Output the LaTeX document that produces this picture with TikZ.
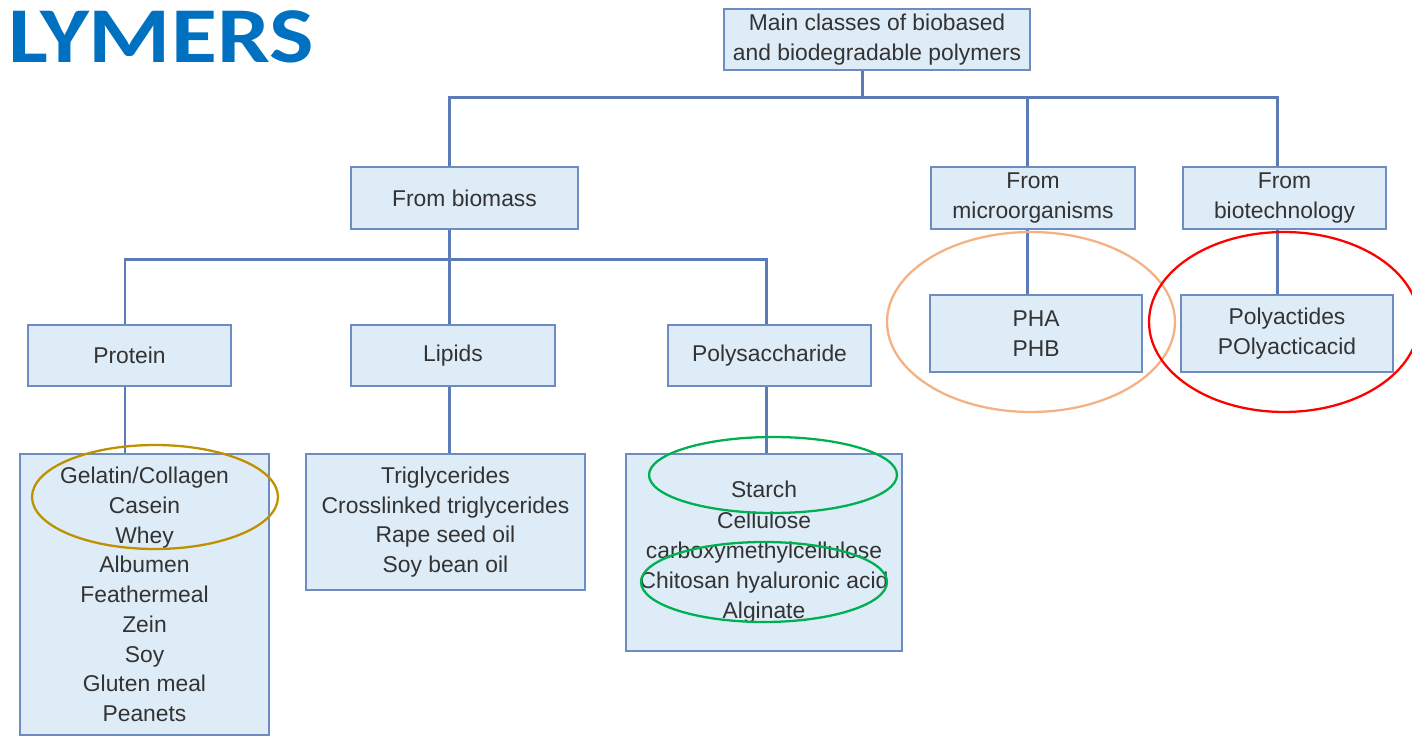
\documentclass[tikz,border=0pt]{standalone}
\usepackage{fontspec}
\setmainfont{Liberation Sans}
\newfontfamily\titlefont{Carlito}
\definecolor{boxfill}{HTML}{DEECF7}
\definecolor{boxline}{HTML}{6F8CC0}
\definecolor{linkcol}{HTML}{5B7BB6}
\definecolor{txt}{HTML}{333333}
\definecolor{titleblue}{HTML}{0070C0}
\definecolor{ringgold}{HTML}{BF9000}
\definecolor{ringgreen}{HTML}{00B050}
\definecolor{ringpeach}{HTML}{F4B183}
\begin{document}
\begin{tikzpicture}[x=0.02cm, y=-0.02cm,
    box/.style={rectangle, draw=boxline, line width=1.3pt, fill=boxfill, align=center, inner sep=0pt,
        text=txt, font=\fontsize{13}{16.9}\selectfont},
    link/.style={draw=linkcol, line width=1.7pt},
    ring/.style={line width=1.3pt}
]
\useasboundingbox (0,0) rectangle (1412,736);

% Title
\node[anchor=base west, inner sep=0pt, xscale=1.19, transform shape, text=titleblue,
    font=\titlefont\bfseries\fontsize{45}{50}\selectfont] (title) at (8,63) {LYMERS};

% Boxes
\node[box, minimum width=6.12cm, minimum height=1.22cm] (main) at (877,39.5) {Main classes of biobased\\and biodegradable polymers};
\node[box, minimum width=4.54cm, minimum height=1.24cm] (bio) at (464.5,198) {From biomass};
\node[box, minimum width=4.08cm, minimum height=1.24cm] (micro) at (1033,198) {From\\microorganisms};
\node[box, minimum width=4.06cm, minimum height=1.24cm] (biot) at (1284.5,198) {From\\biotechnology};
\node[box, minimum width=4.06cm, minimum height=1.22cm] (prot) at (129.5,355.5) {Protein};
\node[box, minimum width=4.08cm, minimum height=1.22cm] (lip) at (453,355.5) {Lipids};
\node[box, minimum width=4.06cm, minimum height=1.22cm] (poly) at (769.5,355.5) {Polysaccharide};
\node[box, minimum width=4.24cm, minimum height=1.54cm] (pha) at (1036,333.5) {PHA\\PHB};
\node[box, minimum width=4.24cm, minimum height=1.54cm] (pla) at (1287,333.5) {Polyactides\\POlyacticacid};

% Lists
\node[box, minimum width=4.98cm, minimum height=5.62cm] (plist) at (144.5,594.5) {Gelatin/Collagen\\Casein\\Whey\\Albumen\\Feathermeal\\Zein\\Soy\\Gluten meal\\Peanets};
\node[box, minimum width=5.58cm, minimum height=2.72cm] (llist) at (445.5,522) {Triglycerides\\Crosslinked triglycerides\\Rape seed oil\\Soy bean oil};
\node[box, minimum width=5.52cm, minimum height=3.94cm, font=\fontsize{13}{17.2}\selectfont] (slist) at (764,552.5) {Starch\\Cellulose\\carboxymethylcellulose\\Chitosan hyaluronic acid\\Alginate};

% Connections
\draw[link] ([xshift=-0.3cm]main.south) -- ++(0,26) coordinate (j1);
\draw[link] ([xshift=-0.31cm]bio.north) |- (j1) -| ([xshift=-0.15cm]biot.north);
\draw[link] ([xshift=-0.12cm]micro.north) -- ([xshift=-0.12cm]micro.north |- j1);
\draw[link] ([xshift=-0.31cm]bio.south) -- ++(0,29) coordinate (j2);
\draw[link] ([xshift=-0.09cm]prot.north) |- (j2) -| ([xshift=-0.07cm]poly.north);
\draw[link] (j2) -- (lip.north -| j2);
\draw[link] ([xshift=-0.12cm]micro.south) -- ([xshift=-0.12cm]micro.south |- pha.north);
\draw[link] ([xshift=-0.15cm]biot.south) -- ([xshift=-0.15cm]biot.south |- pla.north);
\draw[link] ([xshift=-0.09cm]prot.south) -- ([xshift=-0.09cm]prot.south |- plist.north);
\draw[link] (lip.south -| j2) -- (llist.north -| j2);
\draw[link] ([xshift=-0.07cm]poly.south) -- ([xshift=-0.07cm]poly.south |- slist.north);

% Highlights
\draw[ring, ringgold] (155,497) ellipse [x radius=2.46cm, y radius=1.04cm];
\draw[ring, ringgreen] (773,475) ellipse [x radius=2.48cm, y radius=0.76cm];
\draw[ring, ringgreen] (764,582) ellipse [x radius=2.46cm, y radius=0.8cm];
\draw[ring, ringpeach] (1031,322) ellipse [x radius=2.88cm, y radius=1.8cm];
\draw[ring, red] (1284,322) ellipse [x radius=2.7cm, y radius=1.8cm];
\end{tikzpicture}
\end{document}
